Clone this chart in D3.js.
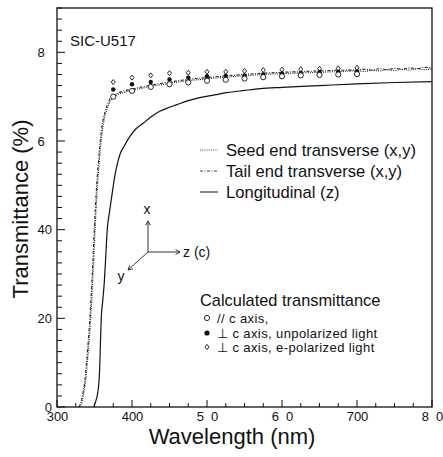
<!DOCTYPE html>
<html><head><meta charset="utf-8">
<script src="https://cdn.jsdelivr.net/npm/d3@7"></script>
<style>
html,body{margin:0;padding:0;background:#fff;}
svg{display:block;font-family:"Liberation Sans",Arial,Helvetica,sans-serif;}
</style></head>
<body><svg id="c" width="443" height="457"></svg>
<script>
// ---- data ----
const xTickValues = [300,400,500,600,700,800];
const xTickLabels = ["300","400","5\u20070","6\u20070","700","8\u20070"];
const yTickValues = [0,20,40,60,80];
const yTickLabels = ["0","20","40","6\u2007","8\u2007"];

const seedWl = [330,332,334,336,338,340,342,344,346,348,350,352,354,356,358,360,362,365,368,371,375,380,390,400,425,450,475,500,525,550,575,600,625,650,675,700,710,720,730,740,750,760,770,780,790,800];
const seedT  = [0,0.5,1.6,3.4,5.6,9,13,17.5,23,29.5,37,44,50,54.5,58.5,61.7,64,66.3,67.8,69,69.8,70.4,71,71.4,72.3,73,73.6,74.0,74.4,74.7,75.0,75.2,75.35,75.5,75.65,75.8,75.7,75.95,75.8,76.1,75.9,76.2,76.0,76.3,76.1,76.3];

const tailWl = [329,331,333,335,337,339,341,343,345,347,349,351,353,355,357,359,361,364,367,370,375,380,390,400,425,450,475,500,525,550,575,600,625,650,675,700,710,720,730,740,750,760,770,780,790,800];
const tailT  = [0,0.6,1.8,3.6,5.8,9.3,13.4,18,23.5,30,37.5,44.5,50.3,54.8,58.8,62,64.3,66.6,68.1,69.3,70.2,70.7,71.3,71.7,72.6,73.3,73.9,74.3,74.7,75.0,75.3,75.5,75.65,75.8,75.95,76.0,76.2,76.0,76.3,76.1,76.4,76.2,76.5,76.3,76.6,76.5];

const longWl = [349,352,355,357,358,359,361,363,365,367,370,373,377,380,384,390,397,405,415,425,437,450,460,475,490,510,526,550,571,600,650,700,750,800];
const longT  = [0,1.5,4,9,15,20,24,28,34,40,44,47.5,52,54.5,57,59,61,62.7,64,65.4,66.7,67.6,68.2,69.1,69.8,70.4,70.9,71.4,71.8,72.1,72.5,72.9,73.2,73.4];

const calcWl   = [375,400,425,450,475,500,525,550,575,600,625,650,675,700];
const calcPar  = [70.0,71.3,72.2,72.8,73.2,73.6,73.8,74.1,74.4,74.6,74.8,74.9,75.0,75.1];
const calcUnp  = [71.6,72.8,73.3,73.9,74.3,74.6,74.7,74.8,75.0,75.2,75.3,75.5,75.6,75.7];
const calcEpol = [73.3,74.3,74.8,75.3,75.4,75.6,75.6,75.8,76.0,76.1,76.2,76.3,76.4,76.5];

const lineLegend = ["Seed end transverse (x,y)","Tail end transverse (x,y)","Longitudinal (z)"];
const calcTitle = "Calculated transmittance";
const calcLegend = ["// c axis,","\u22A5 c axis, unpolarized light","\u22A5 c axis, e-polarized light"];

// ---- layout ----
const svg = d3.select("#c");
const L = 57, R = 432, T = 8, B = 407;
const x = d3.scaleLinear().domain([300,800]).range([L,R]);
const y = d3.scaleLinear().domain([0,90]).range([B,T]);
const ink = "#111";

// frame
svg.append("rect").attr("x",L).attr("y",T).attr("width",R-L).attr("height",B-T)
  .attr("fill","none").attr("stroke",ink).attr("stroke-width",1.3);

// x axis ticks (inward)
const xMinor = d3.range(300,801,25);
xMinor.forEach(v=>{
  const major = xTickValues.includes(v);
  svg.append("line").attr("x1",x(v)).attr("x2",x(v)).attr("y1",B).attr("y2",B-(major?7:4))
    .attr("stroke",ink).attr("stroke-width",1);
});
const gxl = svg.append("g").attr("transform",`translate(0,${B})`)
  .call(d3.axisBottom(x).tickValues(xTickValues).tickSize(0).tickPadding(5)
    .tickFormat((d,i)=>xTickLabels[i]));
gxl.select(".domain").remove();
gxl.selectAll("text").attr("font-size",13).attr("fill",ink)
  .attr("font-family","'Liberation Sans',Arial,sans-serif");

// y axis ticks (inward)
const yMinor = d3.range(0,90.01,2.5);
yMinor.forEach(v=>{
  const major = yTickValues.includes(v);
  svg.append("line").attr("x1",L).attr("x2",L+(major?8:5)).attr("y1",y(v)).attr("y2",y(v))
    .attr("stroke",ink).attr("stroke-width",1);
});
const gyl = svg.append("g").attr("transform",`translate(${L},0)`)
  .call(d3.axisLeft(y).tickValues(yTickValues).tickSize(0).tickPadding(5)
    .tickFormat((d,i)=>yTickLabels[i]));
gyl.select(".domain").remove();
gyl.selectAll("text").attr("font-size",13).attr("fill",ink)
  .attr("font-family","'Liberation Sans',Arial,sans-serif");

// axis titles
svg.append("text").attr("x",232).attr("y",444).attr("text-anchor","middle")
  .attr("font-size",22).attr("fill",ink).text("Wavelength (nm)");
svg.append("text").attr("transform","translate(28,209) rotate(-90)").attr("text-anchor","middle")
  .attr("font-size",22).attr("fill",ink).text("Transmittance (%)");

// sample name
svg.append("text").attr("x",70).attr("y",46).attr("font-size",15).attr("fill",ink).text("SIC-U517");

// curves
const line = d3.line().x(d=>x(d[0])).y(d=>y(d[1])).curve(d3.curveMonotoneX);
svg.append("clipPath").attr("id","clp").append("rect")
  .attr("x",L).attr("y",T).attr("width",R-L).attr("height",B-T);
const gc = svg.append("g").attr("clip-path","url(#clp)");
gc.append("path").datum(d3.zip(longWl,longT)).attr("d",line)
  .attr("fill","none").attr("stroke",ink).attr("stroke-width",1.2);
gc.append("path").datum(d3.zip(seedWl,seedT)).attr("d",line)
  .attr("fill","none").attr("stroke","#222").attr("stroke-width",1.1).attr("stroke-dasharray","1,1.2");
gc.append("path").datum(d3.zip(tailWl,tailT)).attr("d",line)
  .attr("fill","none").attr("stroke","#222").attr("stroke-width",1.1).attr("stroke-dasharray","3,1.5,1,1.5");

// calculated markers
const diamond = (cx,cy,s)=>`M${cx},${cy-s*1.25}L${cx+s},${cy}L${cx},${cy+s*1.25}L${cx-s},${cy}Z`;
calcWl.forEach((w,i)=>{
  gc.append("path").attr("d",diamond(x(w),y(calcEpol[i]),2)).attr("fill","#fff").attr("stroke",ink).attr("stroke-width",0.9);
  gc.append("circle").attr("cx",x(w)).attr("cy",y(calcUnp[i])).attr("r",2.2).attr("fill",ink);
  gc.append("circle").attr("cx",x(w)).attr("cy",y(calcPar[i])).attr("r",2.6).attr("fill","#fff").attr("stroke",ink).attr("stroke-width",0.9);
});

// line legend
const lgY = [150,171,192];
const dashes = ["1,1.2","3,1.5,1,1.5",null];
lineLegend.forEach((t,i)=>{
  const l = svg.append("line").attr("x1",200).attr("x2",218).attr("y1",lgY[i]).attr("y2",lgY[i])
    .attr("stroke",i<2?"#444":ink).attr("stroke-width",1);
  if(dashes[i]) l.attr("stroke-dasharray",dashes[i]);
  svg.append("text").attr("x",226).attr("y",lgY[i]+5.5).attr("font-size",16.6).attr("fill",ink).text(t);
});

// orientation arrows
const ox=148, oy=252;
const ag = svg.append("g").attr("stroke","#333").attr("stroke-width",1).attr("fill","none");
const arrow = (x2,y2)=>{
  ag.append("line").attr("x1",ox).attr("y1",oy).attr("x2",x2).attr("y2",y2);
  const a = Math.atan2(y2-oy,x2-ox), h=5, s=0.5;
  ag.append("path").attr("d",`M${x2-h*Math.cos(a-s)},${y2-h*Math.sin(a-s)}L${x2},${y2}L${x2-h*Math.cos(a+s)},${y2-h*Math.sin(a+s)}`);
};
arrow(148,221); arrow(180,252); arrow(128,270);
svg.append("text").attr("x",147).attr("y",214).attr("text-anchor","middle").attr("font-size",14).attr("fill",ink).text("x");
svg.append("text").attr("x",183).attr("y",257).attr("font-size",14).attr("fill",ink).text("z (c)");
svg.append("text").attr("x",121).attr("y",281).attr("text-anchor","middle").attr("font-size",14).attr("fill",ink).text("y");

// calc legend
svg.append("text").attr("x",200).attr("y",306).attr("font-size",16.4).attr("fill",ink).text(calcTitle);
const cy = [318,333,347];
svg.append("circle").attr("cx",207).attr("cy",cy[0]).attr("r",2.6).attr("fill","#fff").attr("stroke",ink).attr("stroke-width",0.9);
svg.append("circle").attr("cx",207).attr("cy",cy[1]).attr("r",2.6).attr("fill",ink);
svg.append("path").attr("d",diamond(207,cy[2],2)).attr("fill","#fff").attr("stroke",ink).attr("stroke-width",0.9);
calcLegend.forEach((t,i)=>{
  svg.append("text").attr("x",217).attr("y",cy[i]+4.5).attr("font-size",13).attr("letter-spacing",0.4)
    .attr("fill",ink).text(t);
});
</script></body></html>
